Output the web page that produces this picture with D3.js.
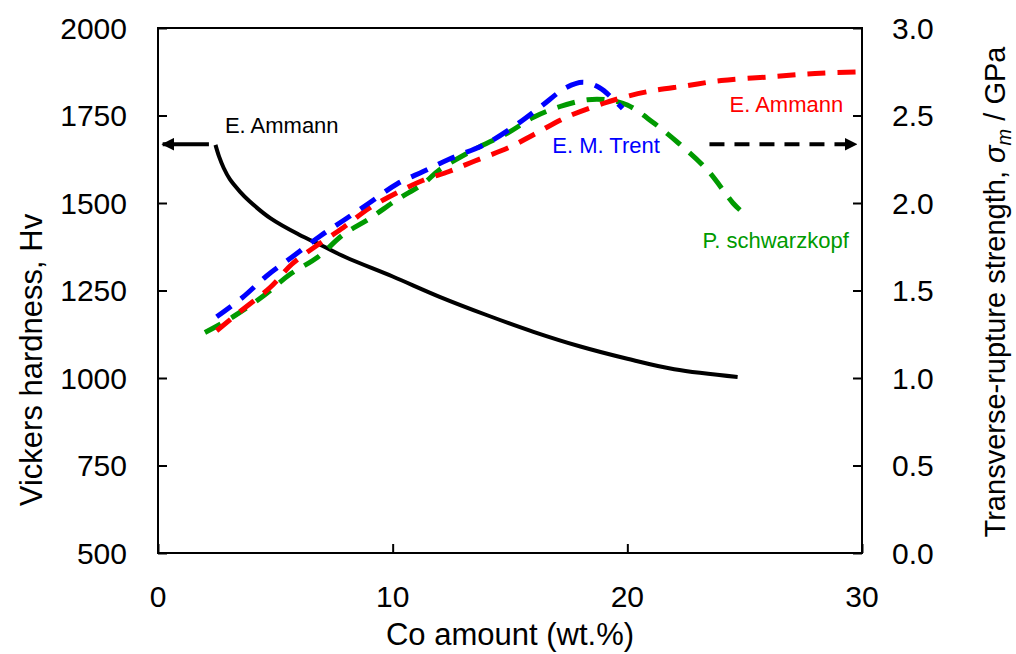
<!DOCTYPE html>
<html>
<head>
<meta charset="utf-8">
<script src="https://cdn.jsdelivr.net/npm/d3@7"></script>
<style>
  body { margin: 0; background: #fff; }
  svg text { font-family: "Liberation Sans", Arial, sans-serif; }
</style>
</head>
<body>
<div id="chart"></div>
<script>
// hardness (left axis), E. Ammann
const hardness = [[2.45,1666],[2.6,1633],[2.8,1600],[3.06,1568],[3.5,1532],[3.9,1505],[4.8,1456],[6,1410],[7,1378],[8,1345],[10,1290],[12,1232],[14,1180],[16,1132],[18,1090],[20,1055],[22,1025],[24.7,1003]];

// transverse-rupture strength (right axis, GPa)
const ammann = [[2.5,1.27],[3.5,1.38],[4.8,1.52],[5.7,1.65],[6.8,1.76],[7.9,1.86],[9,1.97],[10.2,2.06],[11.3,2.13],[12.4,2.18],[13.5,2.24],[15,2.32],[16,2.39],[17.4,2.49],[19,2.57],[20,2.61],[21,2.64],[22.5,2.67],[24,2.70],[26,2.72],[28,2.74],[30,2.75]];
const trent = [[2.5,1.35],[3.6,1.46],[4.6,1.58],[5.7,1.69],[6.9,1.81],[7.9,1.90],[9,2.0],[10.2,2.11],[11.3,2.18],[12.4,2.25],[14,2.34],[15.3,2.45],[16.3,2.55],[17.4,2.66],[18.1,2.69],[18.8,2.66],[19.5,2.58],[19.8,2.54]];
const schwarzkopf = [[2.0,1.26],[3.2,1.35],[4.5,1.47],[5.6,1.59],[6.8,1.69],[7.9,1.82],[9,1.91],[10.2,2.02],[11.3,2.11],[12,2.19],[13.4,2.30],[14.9,2.40],[16,2.49],[17.1,2.55],[18.3,2.59],[19.1,2.59],[20,2.56],[21.1,2.46],[22.2,2.34],[23.4,2.19],[24.5,2.0],[24.8,1.96]];

const xTicks = [0, 10, 20, 30];
const hvTicks = [500, 750, 1000, 1250, 1500, 1750, 2000];
const gpaTicks = [0.0, 0.5, 1.0, 1.5, 2.0, 2.5, 3.0];

const W = 1016, H = 654;
const margin = {top: 28, right: 154, bottom: 101, left: 158};
const w = W - margin.left - margin.right, h = H - margin.top - margin.bottom;

const svg = d3.select("#chart").append("svg").attr("width", W).attr("height", H);
const g = svg.append("g").attr("transform", "translate(" + margin.left + "," + margin.top + ")");

const x = d3.scaleLinear().domain([0, 30]).range([0, w]);
const yL = d3.scaleLinear().domain([500, 2000]).range([h, 0]);
const yR = d3.scaleLinear().domain([0, 3]).range([h, 0]);

// axes, ticks pointing inward
const tickSize = 9;
const axB = g.append("g").attr("transform", "translate(0," + h + ")")
  .call(d3.axisTop(x).tickValues(xTicks).tickSize(tickSize).tickFormat(""));
const axL = g.append("g").call(d3.axisRight(yL).tickValues(hvTicks).tickSize(tickSize).tickFormat(""));
const axR = g.append("g").attr("transform", "translate(" + w + ",0)")
  .call(d3.axisLeft(yR).tickValues(gpaTicks).tickSize(tickSize).tickFormat(""));
[axB, axL, axR].forEach(a => {
  a.select(".domain").remove();
  a.selectAll("line").attr("stroke", "#000").attr("stroke-width", 2);
});
g.append("rect").attr("width", w).attr("height", h).attr("fill", "none")
  .attr("stroke", "#000").attr("stroke-width", 2);

// tick labels
g.selectAll(".xl").data(xTicks).enter().append("text")
  .attr("x", d => x(d)).attr("y", h + 54).attr("text-anchor", "middle")
  .attr("font-size", 30).text(d => d);
g.selectAll(".yl").data(hvTicks).enter().append("text")
  .attr("x", -31).attr("y", d => yL(d)).attr("dy", "0.36em").attr("text-anchor", "end")
  .attr("font-size", 30).text(d => d);
g.selectAll(".yr").data(gpaTicks).enter().append("text")
  .attr("x", w + 30).attr("y", d => yR(d)).attr("dy", "0.36em").attr("text-anchor", "start")
  .attr("font-size", 30).text(d => d3.format(".1f")(d));

// axis titles
svg.append("text").attr("x", margin.left + w / 2).attr("y", 645).attr("text-anchor", "middle")
  .attr("font-size", 31).text("Co amount (wt.%)");
svg.append("text").attr("transform", "translate(42,360) rotate(-90)").attr("text-anchor", "middle")
  .attr("font-size", 31).text("Vickers hardness, Hv");
const rt = svg.append("text").attr("transform", "translate(1005,292) rotate(-90)").attr("text-anchor", "middle")
  .attr("font-size", 29);
rt.append("tspan").text("Transverse-rupture strength, ");
rt.append("tspan").attr("font-style", "italic").text("σ");
rt.append("tspan").attr("font-style", "italic").attr("font-size", 20).attr("dy", 6).text("m");
rt.append("tspan").attr("dy", -6).text(" / GPa");

// curves
const lineL = d3.line().x(d => x(d[0])).y(d => yL(d[1])).curve(d3.curveCatmullRom.alpha(0.5));
const lineR = d3.line().x(d => x(d[0])).y(d => yR(d[1])).curve(d3.curveCatmullRom.alpha(0.5));

g.append("path").datum(hardness).attr("d", lineL).attr("fill", "none")
  .attr("stroke", "#000").attr("stroke-width", 4);

const dashed = [
  {data: schwarzkopf, color: "#009a00"},
  {data: ammann, color: "#ff0000"},
  {data: trent, color: "#0000ff"}
];
dashed.forEach(s => {
  g.append("path").datum(s.data).attr("d", lineR).attr("fill", "none")
    .attr("stroke", s.color).attr("stroke-width", 5).attr("stroke-dasharray", "18,12");
});

// arrows
const defs = svg.append("defs");
defs.append("marker").attr("id", "ah").attr("viewBox", "0 0 10 10").attr("refX", 9).attr("refY", 5)
  .attr("markerWidth", 3.2).attr("markerHeight", 3.2).attr("markerUnits", "strokeWidth").attr("orient", "auto")
  .append("path").attr("d", "M0,0L10,5L0,10z").attr("fill", "#000");

g.append("line").attr("x1", x(2.17)).attr("x2", x(0.2)).attr("y1", yL(1668)).attr("y2", yL(1668))
  .attr("stroke", "#000").attr("stroke-width", 4).attr("marker-end", "url(#ah)");
g.append("line").attr("x1", x(23.5)).attr("x2", x(29.75)).attr("y1", yL(1668)).attr("y2", yL(1668))
  .attr("stroke", "#000").attr("stroke-width", 4).attr("stroke-dasharray", "15,10").attr("marker-end", "url(#ah)");

// series labels
const labels = [
  {t: "E. Ammann", x: 2.85, y: 1700, c: "#000", a: "start"},
  {t: "E. Ammann", x: 29.2, y: 1760, c: "#ff0000", a: "end"},
  {t: "E. M. Trent", x: 16.8, y: 1643, c: "#0000ff", a: "start"},
  {t: "P. schwarzkopf", x: 23.2, y: 1371, c: "#009a00", a: "start"}
];
g.selectAll(".lab").data(labels).enter().append("text")
  .attr("x", d => x(d.x)).attr("y", d => yL(d.y)).attr("text-anchor", d => d.a)
  .attr("fill", d => d.c).attr("font-size", 22).text(d => d.t);
</script>
</body>
</html>
